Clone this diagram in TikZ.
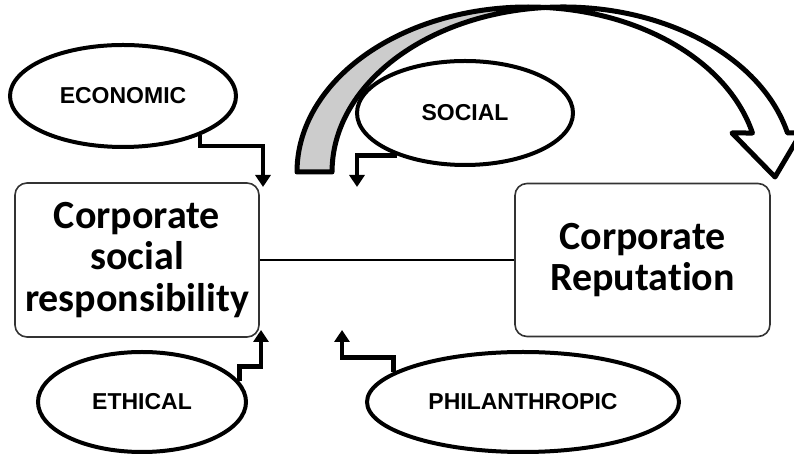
\documentclass[tikz,border=0pt]{standalone}
\usepackage{fontspec}
\newfontfamily\boxfont{Carlito}[Ligatures=NoCommon]
\newfontfamily\ovalfont{Liberation Sans}
\usetikzlibrary{shapes.geometric,arrows.meta}

\begin{document}
\begin{tikzpicture}[x=1pt,y=1pt,
  oval/.style={ellipse, draw=black, line width=4pt, fill=white, inner sep=0pt,
    font=\ovalfont\bfseries\fontsize{23}{27}\selectfont},
  conceptbox/.style={draw=black!80, line width=1.6pt, rounded corners=12pt, fill=white,
    inner sep=0pt, align=center, font=\boxfont\bfseries\fontsize{40}{41.5}\selectfont},
  feed/.style={line width=4.5pt, -{Triangle[length=12pt,width=15pt]}, line join=miter},
  bandline/.style={draw=black, line width=5pt, line join=round},
  backface/.style={bandline, fill=black!20},
  frontface/.style={bandline, fill=white}
]
\useasboundingbox (0,0) rectangle (794,454);
\clip (0,0) rectangle (794,454);

% curved band arrow: two equal half-ellipses offset sideways
\coordinate (ca) at (528,282);
\coordinate (cb) at (563,282);
\filldraw[backface] (ca) ++(180:231 and 165)
  arc[start angle=180, end angle=85.65, x radius=231, y radius=165]
  arc[start angle=94.35, end angle=180, x radius=231, y radius=165] -- cycle;
\filldraw[frontface] (ca) ++(85.65:231 and 165)
  arc[start angle=85.65, end angle=13.67, x radius=231, y radius=165]
  -- (732,321) -- (775,277) -- (801,321) -- (787.5,321)
  arc[start angle=13.67, end angle=94.35, x radius=231, y radius=165] -- cycle;

% main concepts
\node[conceptbox, minimum width=244, minimum height=154] (csr) at (137,194)
  {Corporate\\social\\responsibility};
\node[conceptbox, minimum width=255, minimum height=153] (rep) at (642.5,194)
  {Corporate\\Reputation};
\draw[line width=1.5pt] (csr.east) -- (rep.west);

% dimensions
\node[oval, minimum width=226, minimum height=102] (eco) at (123,358) {ECONOMIC};
\node[oval, minimum width=216, minimum height=104] (soc) at (465,341) {SOCIAL};
\node[oval, minimum width=208, minimum height=100] (eth) at (142,52) {ETHICAL};
\node[oval, minimum width=312, minimum height=100] (phi) at (523,52) {PHILANTHROPIC};

% arrow ends near the link
\coordinate (t1) at (263,267);
\coordinate (t2) at (357,267);
\coordinate (t3) at (261,124);
\coordinate (t4) at (342,124);

\draw[feed] (eco.-27.5) -- ++(0,-10.5) -| (t1);
\draw[feed] (soc.212.6) -| (t2);
\draw[feed] (eth.12.1) -- ++(0,15) -| (t3);
\draw[feed] (phi.167.4) -- ++(0,14.4) -| (t4);
\end{tikzpicture}
\end{document}
